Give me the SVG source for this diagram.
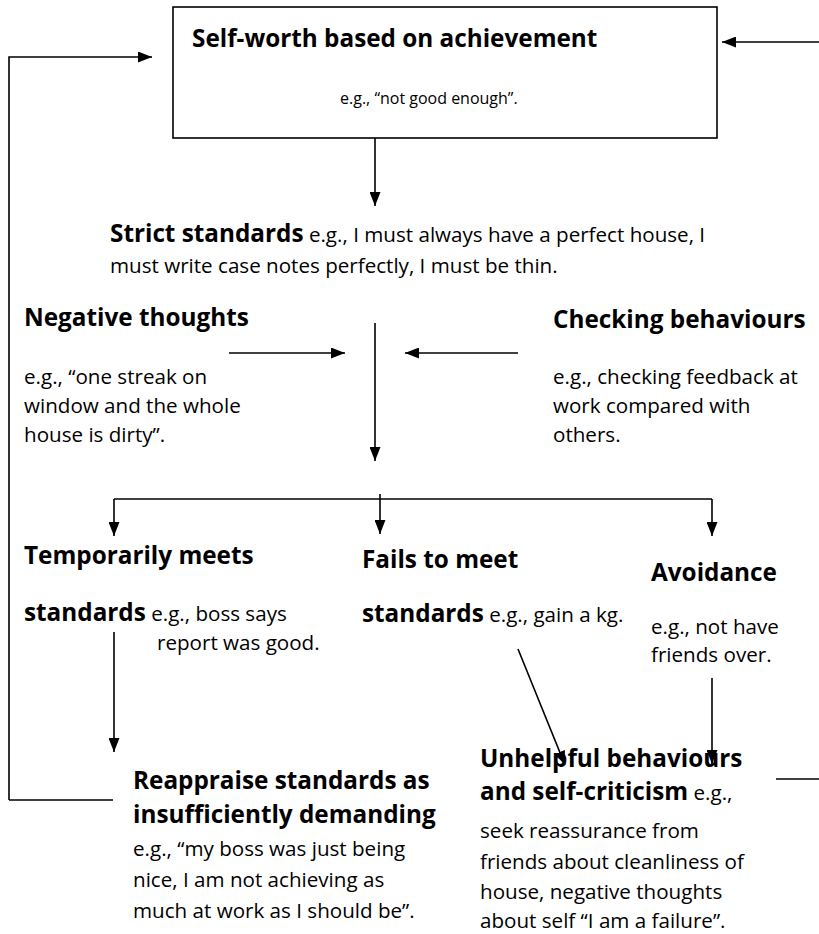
<svg xmlns="http://www.w3.org/2000/svg" width="819" height="934" viewBox="0 0 819 934">
<defs>
<marker id="ah" markerUnits="userSpaceOnUse" markerWidth="14" markerHeight="11" refX="14" refY="5.5" orient="auto">
<path d="M0,0 L14,5.5 L0,11 z" fill="#000"/>
</marker>
<style>
text{font-family:"Open Sans","Noto Sans",sans-serif;fill:#000;font-size:20.6px}
.b{font-weight:bold;font-size:24.3px}
.s{font-size:16px}
.c{fill:none;stroke:#000;stroke-width:1.6}
.a{fill:none;stroke:#000;stroke-width:1.6;marker-end:url(#ah)}
</style>
</defs>
<rect width="819" height="934" fill="#fff"/>
<g id="connectors">
<path class="a" d="M9,800 L9,57 L152,57"/>
<path class="c" d="M9,800 L113,800"/>
<path class="a" d="M819,42 L722,42"/>
<path class="a" d="M375,138 L375,206"/>
<path class="a" d="M229,353 L345,353"/>
<path class="a" d="M518,353 L405,353"/>
<path class="a" d="M375,323 L375,461"/>
<path class="c" d="M114,499 L712,499"/>
<path class="a" d="M114,499 L114,536"/>
<path class="a" d="M380,494 L380,534"/>
<path class="a" d="M712,499 L712,536"/>
<path class="a" d="M114,632 L114,752"/>
<path class="a" d="M518,649 L565,765"/>
<path class="a" d="M712,678 L712,764"/>
<path class="c" d="M776,779 L819,779"/>
</g>
<g id="self-worth">
<rect x="173" y="7" width="544" height="131" fill="#fff" stroke="#000" stroke-width="1.6"/>
<text class="b" x="192" y="47">Self-worth based on achievement</text>
<text class="s" x="340" y="104">e.g., “not good enough”.</text>
</g>
<g id="strict-standards">
<text x="110" y="242"><tspan class="b">Strict standards</tspan> e.g., I must always have a perfect house, I</text>
<text x="110" y="273">must write case notes perfectly, I must be thin.</text>
</g>
<g id="negative-thoughts">
<text class="b" x="24" y="326">Negative thoughts</text>
<text x="24" y="384">e.g., “one streak on</text>
<text x="24" y="413">window and the whole</text>
<text x="24" y="442">house is dirty”.</text>
</g>
<g id="checking-behaviours">
<text class="b" x="553" y="328">Checking behaviours</text>
<text x="553" y="384">e.g., checking feedback at</text>
<text x="553" y="413">work compared with</text>
<text x="553" y="442">others.</text>
</g>
<g id="temporarily-meets">
<text class="b" x="24" y="564">Temporarily meets</text>
<text x="24" y="621"><tspan class="b">standards</tspan> e.g., boss says</text>
<text x="157" y="650">report was good.</text>
</g>
<g id="fails-to-meet">
<text class="b" x="362" y="568">Fails to meet</text>
<text x="362" y="622"><tspan class="b">standards</tspan> e.g., gain a kg.</text>
</g>
<g id="avoidance">
<text class="b" x="651" y="581">Avoidance</text>
<text x="651" y="634">e.g., not have</text>
<text x="651" y="662">friends over.</text>
</g>
<g id="reappraise">
<text class="b" x="133" y="789">Reappraise standards as</text>
<text class="b" x="133" y="823">insufficiently demanding</text>
<text x="133" y="856">e.g., “my boss was just being</text>
<text x="133" y="887">nice, I am not achieving as</text>
<text x="133" y="918">much at work as I should be”.</text>
</g>
<g id="unhelpful">
<text class="b" x="480" y="767">Unhelpful behaviours</text>
<text x="480" y="800"><tspan class="b">and self-criticism</tspan> e.g.,</text>
<text x="480" y="838">seek reassurance from</text>
<text x="480" y="869">friends about cleanliness of</text>
<text x="480" y="899">house, negative thoughts</text>
<text x="480" y="928">about self “I am a failure”.</text>
</g>
</svg>
